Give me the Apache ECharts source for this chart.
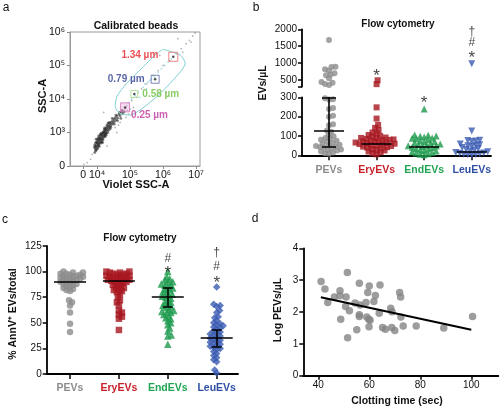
<!DOCTYPE html>
<html><head><meta charset="utf-8">
<script src="https://cdn.jsdelivr.net/npm/echarts@6/dist/echarts.min.js"></script>
<style>html,body{margin:0;padding:0;background:#fff}#c{width:500px;height:408px}</style>
</head><body><div id="c"></div><script>
// ================= DATA =================
// Panel a (decade units: x 4 = 10^4 ... ; y 1 = 10^3 ... ; "0" = biexponential zero)
const aXTickValues = [3.58, 4, 5, 6, 7];
const aXTickLabels = ['0', '10⁴', '10⁵', '10⁶', '10⁷'];
const aYTickValues = [0, 1, 2, 3, 4];
const aYTickLabels = ['0', '10³', '10⁴', '10⁵', '10⁶'];
const aEventsDense = [
[3.92,0.55],[3.93,0.62],[3.95,0.50],[3.95,0.68],[3.97,0.58],[3.98,0.72],[3.99,0.63],[4.00,0.55],[4.01,0.78],[4.02,0.68],
[4.03,0.60],[4.04,0.74],[4.05,0.84],[4.06,0.66],[4.07,0.77],[4.08,0.70],[4.09,0.88],[4.10,0.80],[4.11,0.73],[4.12,0.92],
[4.13,0.84],[4.14,0.78],[4.15,0.95],[4.16,0.88],[4.17,0.82],[4.18,1.00],[4.19,0.92],[4.20,0.86],[4.21,1.04],[4.22,0.97],
[4.23,0.90],[4.24,1.08],[4.25,1.01],[4.26,0.95],[4.27,1.12],[4.28,1.05],[4.30,1.15],[4.31,1.08],[4.32,0.99],[4.33,1.19],
[4.35,1.12],[4.36,1.24],[4.38,1.17],[4.40,1.27],[4.41,1.20],[4.43,1.31],[4.45,1.24],[4.47,1.35],[4.49,1.29],[4.51,1.40],
[4.53,1.33],[4.55,1.44],[4.58,1.38],[4.60,1.49],[4.63,1.43],[4.66,1.54],[4.70,1.50],[4.74,1.60],[4.78,1.56],
[3.96,0.45],[4.00,0.70],[4.05,0.62],[4.10,0.95],[4.15,0.72],[4.20,1.00],[4.25,0.88],[4.30,1.22],[4.05,0.90],[3.97,0.80],
[3.94,0.58],[4.02,0.52],[4.08,0.82],[4.12,0.68],[4.18,0.78],[4.22,1.10],[4.28,0.98],[4.34,1.05],[4.37,1.30],[4.42,1.15],
[3.93,0.40],[3.98,0.48],[4.03,0.82],[4.07,0.58],[4.13,0.98],[4.17,0.70],[4.23,1.14],[4.27,0.92],[4.33,1.28],[4.39,1.10],
[4.46,1.42],[4.52,1.25],[4.57,1.52],[4.62,1.35],[4.68,1.60],[4.72,1.42],[4.76,1.66],[4.82,1.62]
];
const aEventsSparse = [
[4.85,1.72],[4.92,1.66],[5.05,1.95],[5.20,2.05],[5.35,2.30],[5.50,2.45],[5.70,2.70],[5.85,2.85],[6.00,3.00],[6.20,3.15],
[6.40,3.35],[6.55,3.50],[6.70,3.65],[6.80,3.75],[6.90,3.88],[6.97,3.97],[6.60,3.40],[6.85,3.70],[3.70,0.10],[3.85,0.35],
[4.30,0.60],[4.60,1.00],[5.30,1.60],[3.60,0.05],[6.10,2.20],[4.20,1.60],[5.90,3.30],[6.45,3.80],[4.70,1.30],[3.80,0.20],
[4.95,1.55],[5.10,1.75],[4.88,1.45],[5.00,1.70],[4.65,1.22],[4.55,1.15]
];
const aEventsGated = [
[4.95,1.90],[5.05,2.00],[5.15,2.10],[5.25,2.20],[5.40,2.35],[5.55,2.50],[5.65,2.60],[5.75,2.65],[5.85,2.80],[5.95,2.90],
[6.05,3.00],[5.30,2.05],[5.50,2.30],[5.60,2.55],[4.90,1.80],[6.15,3.10],[6.25,3.20],[5.45,2.45]
];
const aGate = [[6.01,3.48],[6.52,3.31],[6.67,3.07],[6.31,2.57],[5.81,2.07],[5.30,1.67],[5.00,1.52],[4.70,1.57],
[4.55,1.77],[4.60,2.07],[4.90,2.47],[5.40,2.96],[5.81,3.36],[6.01,3.48]];
const beadNames = ['1.34 µm', '0.79 µm', '0.58 µm', '0.25 µm'];
const beadX = [6.31, 5.76, 5.13, 4.85];
const beadY = [3.26, 2.59, 2.15, 1.75];

// Panels b and c categories
const categories = ['PEVs', 'EryEVs', 'EndEVs', 'LeuEVs'];

// Panel b: EVs/µL (broken axis 0–300 | 300–2000)
const bPEVs = [1680, 890, 880, 815, 780, 700, 660, 640, 550, 440, 420, 380, 350,
  295, 290, 288, 245, 240, 205, 200, 160, 155, 128, 122, 105, 98,
  90, 85, 80, 75, 70, 65, 60, 55, 52, 48, 45, 42, 40, 35, 30, 28, 25, 20, 15, 10, 8];
const bEryEVs = [490, 375, 248, 190, 157, 142, 130, 118, 112, 105, 100, 96, 92, 90, 88, 85, 82, 80, 78, 75,
  72, 70, 68, 66, 64, 62, 60, 58, 55, 52, 50, 48, 45, 42, 40, 36, 32, 28, 25, 20, 15, 10, 5];
const bEndEVs = [240, 105, 104, 100, 98, 95, 90, 88, 85, 80, 75, 72, 70, 65, 62, 58, 55, 52, 50, 48,
  45, 42, 40, 35, 32, 28, 25, 22, 18, 15, 12, 8, 5, 3];
const bLeuEVs = [980, 126, 78, 76, 74, 72, 58, 55, 52, 50, 45, 40, 35, 30, 26, 22, 18, 15, 12, 10, 8, 6, 4, 3, 2];
const bCenter = [128, 62, 45, 16];
const bErrLow = [45, null, null, null];
const bErrHigh = [300, null, null, null];
const bMarkX = [1, 2, 3, 3, 3];
const bMarkY = [740, 290, 1930, 1590, 1270];
const bMarkText = ['*', '*', '†', '#', '*'];

// Panel c: % AnnV+ EVs/total
const cPEVs = [100, 99, 99, 98, 98, 97, 97, 96, 96, 95, 95, 94, 94, 93, 93, 92, 92, 91, 90, 90,
  89, 88, 88, 87, 86, 85, 84, 83, 82, 81, 72, 70, 67, 60, 49, 41];
const cEryEVs = [100, 100, 99, 99, 98, 98, 97, 97, 96, 96, 95, 95, 94, 94, 93, 93, 92, 92, 91, 91,
  90, 90, 89, 88, 87, 86, 85, 84, 83, 82, 81, 80, 78, 75, 72, 70, 67, 62, 60, 58, 56, 54, 43];
const cEndEVs = [100, 95, 93, 92, 90, 90, 88, 87, 87, 85, 84, 83, 82, 80, 80, 78, 77, 76, 75, 74,
  72, 70, 70, 68, 67, 66, 65, 63, 62, 61, 60, 60, 58, 57, 55, 54, 52, 50, 48, 45, 42, 38, 37, 29];
const cLeuEVs = [85, 68, 67, 66, 62, 60, 56, 55, 52, 50, 49, 48, 47, 46, 45, 44, 42, 41, 40, 39,
  38, 37, 36, 35, 34, 33, 32, 31, 30, 29, 28, 27, 26, 25, 24, 22, 20, 18, 16, 14, 12, 4, 1];
const cCenter = [90, 91.5, 75.5, 35.5];
const cErrLow = [null, null, 66, 27];
const cErrHigh = [null, null, 84, 43];
const cMarkX = [2, 2, 3, 3, 3];
const cMarkY = [113, 102.5, 118, 105, 92.7];
const cMarkText = ['#', '*', '†', '#', '*'];

// Panel d: Log PEVs/µL vs clotting time
const dX = [41.1,42.6,43.7,46.3,48.5,48.5,50.9,51.4,50.7,52.2,48.8,51.5,54.4,56.1,56.4,56.1,56.1,55.1,58.7,59.4,
  60.0,59.0,59.8,60.3,59.9,61.8,62.4,63.9,64.2,65.2,66.3,68.4,68.9,68.8,70.0,71.9,72.3,72.4,73.3,78.4,89.2,100.5];
const dY = [2.96,2.72,2.30,2.47,2.67,2.51,2.47,3.24,2.17,2.04,1.77,1.19,2.28,2.90,2.22,1.91,1.86,1.44,2.30,2.61,
  2.82,1.84,1.77,1.74,1.54,2.33,2.52,1.96,2.85,1.51,1.46,2.12,2.01,1.51,1.42,2.61,2.47,1.84,1.56,1.56,1.50,1.86];
const dFitX = [41, 100];
const dFitY = [2.46, 1.44];
const dXTicks = [40, 60, 80, 100];

// ================= STYLE / LAYOUT =================
const FONT = 'Liberation Sans, Arial, Helvetica, sans-serif';
const groupColors = ['#8c8c8c', '#a8161f', '#1b9a4c', '#3b5bb3'];
const labelColors = ['#8c8c8c', '#c8202a', '#22a455', '#2f4fa5'];
const bSymbols = ['circle', 'rect', 'triangle', 'triangle'];
const bRotate = [0, 0, 0, 180];
const bSizes = [6, 6, 7, 7];
const cSymbols = ['circle', 'rect', 'triangle', 'diamond'];
const cSizes = [6.5, 6.5, 7.5, 7.5];
const beadColors = ['#e3262b', '#2e3f91', '#6abf3c', '#c0399b'];
const beadBorder = ['#e86a6a', '#5a6aa8', '#a8d486', '#d070b8'];
const beadSize = [9, 8, 7, 9];
const beadLabelPos = [
  {position: 'left', distance: 10, offset: [0, -2]},
  {position: 'left', distance: 6, offset: [0, 0]},
  {position: 'right', distance: 4, offset: [0, 0]},
  {position: 'right', distance: 1, offset: [0, 8]}
];

// broken axis geometry for b (pixels)
const bLowH = 58, bGap = 10.6, bUpH = 57.4;
function bToPx(v) { return v <= 300 ? v * bLowH / 300 : bLowH + bGap + (v - 300) * bUpH / 1700; }
function cToPx(v) { return v * 128 / 125; }

// deterministic beeswarm layout, returns x offsets in category units
function swarm(vals, toPx, pxPerX, diam) {
  const order = vals.map((v, i) => i).sort((a, b) => vals[a] - vals[b]);
  const placed = [];
  const off = new Array(vals.length).fill(0);
  let flip = 1;
  for (const i of order) {
    const y = toPx(vals[i]);
    let chosen = 0;
    outer:
    for (let k = 0; k < 400; k++) {
      const cands = k === 0 ? [0] : [flip * k * 0.5, -flip * k * 0.5];
      for (const x of cands) {
        let ok = true;
        for (const p of placed) {
          const dx = p.x - x, dy = p.y - y;
          if (dx * dx + dy * dy < diam * diam) { ok = false; break; }
        }
        if (ok) { chosen = x; break outer; }
      }
    }
    flip = -flip;
    placed.push({x: chosen, y});
    off[i] = chosen / pxPerX;
  }
  return off;
}

const bGroups = [bPEVs, bEryEVs, bEndEVs, bLeuEVs];
const cGroups = [cPEVs, cEryEVs, cEndEVs, cLeuEVs];
const bPxX = 47.57, cPxX = 48.9;

const series = [];
// ----- panel a -----
series.push({type: 'scatter', xAxisIndex: 0, yAxisIndex: 0, data: aEventsSparse, symbolSize: 1.8,
  itemStyle: {color: 'rgba(90,90,90,0.55)'}, silent: true});
series.push({type: 'scatter', xAxisIndex: 0, yAxisIndex: 0, data: aEventsGated, symbolSize: 1.8,
  itemStyle: {color: '#8fd3e2'}, silent: true});
series.push({type: 'scatter', xAxisIndex: 0, yAxisIndex: 0, data: aEventsDense, symbolSize: 2.8,
  itemStyle: {color: 'rgba(30,30,30,0.7)'}, silent: true});
series.push({type: 'line', xAxisIndex: 0, yAxisIndex: 0, data: aGate, symbol: 'none', smooth: 0.25,
  lineStyle: {color: '#7fcfd2', width: 1}, silent: true});
series.push({type: 'scatter', xAxisIndex: 0, yAxisIndex: 0, symbol: 'rect', z: 5,
  data: beadNames.map((n, i) => ({
    value: [beadX[i], beadY[i]], name: n, symbolSize: beadSize[i],
    itemStyle: {color: i === 3 ? 'rgba(230,150,210,0.45)' : 'rgba(255,255,255,0)', borderColor: beadBorder[i], borderWidth: 1},
    label: Object.assign({show: true, formatter: n, color: beadColors[i], fontWeight: 'bold', fontSize: 10, fontFamily: FONT}, beadLabelPos[i])
  }))});
series.push({type: 'scatter', xAxisIndex: 0, yAxisIndex: 0, z: 6, symbolSize: 2.5,
  data: beadX.map((x, i) => [x, beadY[i]]), itemStyle: {color: '#222'}});

// ----- panel b -----
bGroups.forEach((vals, g) => {
  const off = swarm(vals, bToPx, bPxX, 4);
  const up = [], lo = [];
  vals.forEach((v, i) => { (v > 300 ? up : lo).push([g + off[i], v]); });
  const common = {type: 'scatter', symbol: bSymbols[g], symbolSize: bSizes[g], symbolRotate: bRotate[g],
    itemStyle: {color: groupColors[g]}, silent: true};
  series.push(Object.assign({xAxisIndex: 1, yAxisIndex: 1, data: up}, common));
  series.push(Object.assign({xAxisIndex: 2, yAxisIndex: 2, data: lo}, common));
});
const bLines = [];
bCenter.forEach((m, g) => {
  bLines.push({coords: [[g - 15 / bPxX, m], [g + 15 / bPxX, m]]});
  if (bErrLow[g] != null) {
    bLines.push({coords: [[g, bErrLow[g]], [g, bErrHigh[g]]]});
    bLines.push({coords: [[g - 7 / bPxX, bErrLow[g]], [g + 7 / bPxX, bErrLow[g]]]});
    bLines.push({coords: [[g - 7 / bPxX, bErrHigh[g]], [g + 7 / bPxX, bErrHigh[g]]]});
  }
});
series.push({type: 'lines', coordinateSystem: 'cartesian2d', xAxisIndex: 2, yAxisIndex: 2, z: 10, silent: true,
  data: bLines, lineStyle: {color: '#000', width: 1.6, opacity: 1}});
const markStyle = t => ({show: true, formatter: t, position: 'inside', color: '#111', fontFamily: FONT,
  fontSize: t === '*' ? 17 : 12, offset: t === '*' ? [0, 4] : [0, 0]});
const bUpMarks = [], bLoMarks = [];
bMarkX.forEach((x, i) => {
  const item = {value: [x, bMarkY[i]], label: markStyle(bMarkText[i])};
  (bMarkY[i] > 300 ? bUpMarks : bLoMarks).push(item);
});
series.push({type: 'scatter', xAxisIndex: 1, yAxisIndex: 1, symbolSize: 1, itemStyle: {color: 'rgba(0,0,0,0)'}, data: bUpMarks, z: 11});
series.push({type: 'scatter', xAxisIndex: 2, yAxisIndex: 2, symbolSize: 1, itemStyle: {color: 'rgba(0,0,0,0)'}, data: bLoMarks, z: 11});

// ----- panel c -----
cGroups.forEach((vals, g) => {
  const off = swarm(vals, cToPx, cPxX, 3.6);
  series.push({type: 'scatter', xAxisIndex: 3, yAxisIndex: 3, symbol: cSymbols[g], symbolSize: cSizes[g],
    itemStyle: {color: groupColors[g]}, silent: true, data: vals.map((v, i) => [g + off[i], v])});
});
const cLines = [];
cCenter.forEach((m, g) => {
  cLines.push({coords: [[g - 16 / cPxX, m], [g + 16 / cPxX, m]]});
  if (cErrLow[g] != null) {
    cLines.push({coords: [[g, cErrLow[g]], [g, cErrHigh[g]]]});
    cLines.push({coords: [[g - 5 / cPxX, cErrLow[g]], [g + 5 / cPxX, cErrLow[g]]]});
    cLines.push({coords: [[g - 5 / cPxX, cErrHigh[g]], [g + 5 / cPxX, cErrHigh[g]]]});
  }
});
series.push({type: 'lines', coordinateSystem: 'cartesian2d', xAxisIndex: 3, yAxisIndex: 3, z: 10, silent: true,
  data: cLines, lineStyle: {color: '#000', width: 1.5, opacity: 1}});
series.push({type: 'scatter', xAxisIndex: 3, yAxisIndex: 3, symbolSize: 1, itemStyle: {color: 'rgba(0,0,0,0)'}, z: 11,
  data: cMarkX.map((x, i) => ({value: [x, cMarkY[i]], label: markStyle(cMarkText[i])}))});

// ----- panel d -----
series.push({type: 'scatter', xAxisIndex: 4, yAxisIndex: 4, symbolSize: 7.5, itemStyle: {color: '#858585'},
  data: dX.map((x, i) => [x, dY[i]]), silent: true});
series.push({type: 'line', xAxisIndex: 4, yAxisIndex: 4, symbol: 'none', z: 5,
  data: dFitX.map((x, i) => [x, dFitY[i]]), lineStyle: {color: '#000', width: 2}});

// ----- axes -----
function axis(extra) {
  const base = {type: 'value', splitLine: {show: false},
    axisLine: {show: true, onZero: false, lineStyle: {color: '#000', width: 1.8}},
    axisTick: {show: true, inside: false, length: 4, lineStyle: {color: '#000', width: 1.5}},
    axisLabel: {color: '#111', fontSize: 10, fontFamily: FONT, margin: 5, formatter: v => String(v)}};
  for (const k in extra) {
    if (typeof extra[k] === 'object' && !Array.isArray(extra[k]) && base[k]) base[k] = Object.assign({}, base[k], extra[k]);
    else base[k] = extra[k];
  }
  return base;
}
const catLabel = {
  customValues: [0, 1, 2, 3],
  formatter: v => '{c' + Math.round(v) + '|' + categories[Math.round(v)] + '}',
  rich: {
    c0: {color: labelColors[0], fontWeight: 'bold', fontSize: 10.5, fontFamily: FONT},
    c1: {color: labelColors[1], fontWeight: 'bold', fontSize: 10.5, fontFamily: FONT},
    c2: {color: labelColors[2], fontWeight: 'bold', fontSize: 10.5, fontFamily: FONT},
    c3: {color: labelColors[3], fontWeight: 'bold', fontSize: 10.5, fontFamily: FONT}
  },
  margin: 9
};
const aAxisLine = {show: true, onZero: false, lineStyle: {color: '#9a9a9a', width: 1}};
const aTick = {show: true, length: 3, lineStyle: {color: '#888', width: 1}};

const xAxis = [
  axis({gridIndex: 0, min: 3.18, max: 7.12, axisLine: aAxisLine, axisTick: Object.assign({customValues: aXTickValues}, aTick),
    axisLabel: {customValues: aXTickValues, formatter: v => aXTickLabels[aXTickValues.indexOf(v)] ?? '', fontSize: 10.5, margin: 4}}),
  axis({gridIndex: 1, min: -0.568, max: 3.405, show: false}),
  axis({gridIndex: 2, min: -0.568, max: 3.405, axisTick: {customValues: [0, 1, 2, 3], length: 5}, axisLabel: catLabel}),
  axis({gridIndex: 3, min: -0.477, max: 3.436, axisTick: {customValues: [0, 1, 2, 3], length: 5}, axisLabel: catLabel}),
  axis({gridIndex: 4, min: 34.12, max: 110.6, axisTick: {customValues: dXTicks, length: 4},
    axisLabel: {customValues: dXTicks, fontSize: 10, margin: 5}})
];
const yAxis = [
  axis({gridIndex: 0, min: 0, max: 4, interval: 1, axisLine: aAxisLine, axisTick: aTick,
    axisLabel: {formatter: v => aYTickLabels[aYTickValues.indexOf(v)] ?? '', fontSize: 10.5, margin: 5}}),
  axis({gridIndex: 1, min: 300, max: 2000, axisTick: {customValues: [300, 500, 1000, 1500, 2000]},
    axisLabel: {customValues: [500, 1000, 1500, 2000]}}),
  axis({gridIndex: 2, min: 0, max: 300, interval: 100}),
  axis({gridIndex: 3, min: 0, max: 125, interval: 25}),
  axis({gridIndex: 4, min: 0, max: 4, interval: 1})
];

const grid = [
  {left: 70, top: 32, width: 130, height: 134, show: true, borderColor: '#9a9a9a', borderWidth: 1, outerBoundsMode: 'none', containLabel: false},
  {left: 302, top: 29.3, width: 189, height: 57.4, outerBoundsMode: 'none', containLabel: false},
  {left: 302, top: 97.3, width: 189, height: 58, outerBoundsMode: 'none', containLabel: false},
  {left: 46.7, top: 246, width: 191.3, height: 128, outerBoundsMode: 'none', containLabel: false},
  {left: 303.3, top: 248.3, width: 195, height: 127.4, outerBoundsMode: 'none', containLabel: false}
];

function txt(t, x, y, size, bold, rot) {
  return {type: 'text', x, y, rotation: rot ? Math.PI / 2 : 0, z: 100,
    style: {text: t, x: 0, y: 0, fill: '#111', font: (bold ? 'bold ' : '') + size + 'px ' + FONT,
      align: 'center', verticalAlign: 'middle', textAlign: 'center', textVerticalAlign: 'middle'}};
}
const graphic = [
  txt('a', 6, 8, 12, false), txt('b', 256, 8, 12, false), txt('c', 5, 220, 12, false), txt('d', 255, 219, 12, false),
  txt('Calibrated beads', 136, 26.5, 10.5, true),
  txt('SSC-A', 43, 96, 11, true, true),
  txt('Violet SSC-A', 136, 185, 11, true),
  txt('Flow cytometry', 398, 24, 10, true),
  txt('EVs/µL', 263, 83, 10.5, true, true),
  txt('Flow cytometry', 140, 238, 10, true),
  txt('% AnnV⁺ EVs/total', 13, 314, 10.5, true, true),
  txt('Log PEVs/µL', 278, 310, 10.5, true, true),
  txt('Clotting time (sec)', 397, 401, 10.5, true)
];

const chart = echarts.init(document.getElementById('c'), null, {renderer: 'canvas', width: 500, height: 408});
chart.setOption({animation: false, backgroundColor: '#fff', grid, xAxis, yAxis, series, graphic});
</script></body></html>
